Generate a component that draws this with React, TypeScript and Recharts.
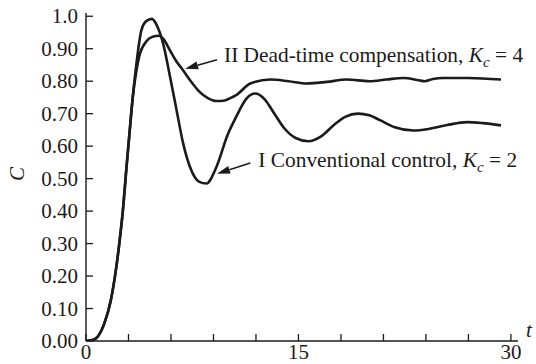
import React from 'react';
import { LineChart, Line, XAxis, YAxis, ReferenceLine } from 'recharts';

// Curve I: conventional control, Kc = 2
const conventionalT = [0, 0.4, 0.8, 1.3, 1.75, 2.1, 2.35, 2.6, 2.85, 3.05, 3.3, 3.55, 3.9, 4.25, 4.65, 5.0, 5.45, 5.95, 6.4, 6.85, 7.35, 8.0, 8.5, 9.2, 10.0, 10.6, 11.3, 11.95, 12.6, 13.3, 14.0, 14.8, 15.7, 16.6, 17.5, 18.3, 19.2, 20.0, 20.75, 21.8, 23.1, 24.2, 25.5, 26.9, 28.0, 29.3];
const conventionalC = [0, 0.002, 0.012, 0.055, 0.125, 0.215, 0.3, 0.4, 0.53, 0.63, 0.75, 0.85, 0.955, 0.985, 0.992, 0.972, 0.915, 0.81, 0.71, 0.61, 0.535, 0.49, 0.485, 0.535, 0.635, 0.69, 0.745, 0.762, 0.745, 0.7, 0.655, 0.625, 0.615, 0.63, 0.665, 0.69, 0.7, 0.695, 0.68, 0.658, 0.648, 0.653, 0.665, 0.674, 0.671, 0.664];

// Curve II: dead-time compensation, Kc = 4
const deadTimeT = [0, 0.4, 0.8, 1.3, 1.75, 2.1, 2.35, 2.6, 2.85, 3.05, 3.3, 3.55, 3.75, 4.25, 4.7, 5.15, 5.5, 5.9, 6.4, 6.85, 7.4, 8.0, 8.6, 9.2, 9.7, 10.15, 10.6, 11.6, 13.0, 14.3, 15.6, 17.0, 18.4, 20.0, 21.2, 22.4, 23.5, 23.9, 24.5, 25.2, 27.0, 29.3];
const deadTimeC = [0, 0.002, 0.012, 0.055, 0.125, 0.215, 0.3, 0.4, 0.53, 0.63, 0.75, 0.83, 0.875, 0.922, 0.937, 0.94, 0.928, 0.897, 0.86, 0.834, 0.8, 0.768, 0.748, 0.739, 0.74, 0.747, 0.757, 0.793, 0.805, 0.8, 0.793, 0.798, 0.805, 0.8, 0.805, 0.81, 0.803, 0.8, 0.807, 0.81, 0.81, 0.805];

const xTicks = [0, 3, 6, 9, 12, 15, 18, 21, 24, 27, 30];
const xTickLabels = ['0', '', '', '', '', '15', '', '', '', '', '30'];
const yTicks = [0, 0.1, 0.2, 0.3, 0.4, 0.5, 0.6, 0.7, 0.8, 0.9, 1.0];
const yTickLabels = ['0.00', '0.10', '0.20', '0.30', '0.40', '0.50', '0.60', '0.70', '0.80', '0.90', '1.0'];

// annotation arrows: [tail, head]
const arrowII = [{ x: 9.25, y: 0.866 }, { x: 7.0, y: 0.838 }];
const arrowI = [{ x: 11.6, y: 0.548 }, { x: 9.25, y: 0.515 }];

const conventionalData = conventionalT.map((t, i) => ({ t, c: conventionalC[i] }));
const deadTimeData = deadTimeT.map((t, i) => ({ t, c: deadTimeC[i] }));

const FONT = '"Liberation Serif", "Times New Roman", serif';
const INK = '#1c1a1a';

const findLabel = (ticks: number[], labels: string[], v: number) => {
  const i = ticks.findIndex((k) => Math.abs(k - v) < 1e-6);
  return i >= 0 ? labels[i] : '';
};

const XTick = (props: any) => {
  const { x, y, payload } = props;
  const label = findLabel(xTicks, xTickLabels, payload.value);
  return (
    <g>
      <line x1={x} y1={y} x2={x} y2={y - 7} stroke={INK} strokeWidth={1.3} />
      {label && (
        <text x={x} y={y + 18} textAnchor="middle" fontFamily={FONT} fontSize={21} fill={INK}>
          {label}
        </text>
      )}
    </g>
  );
};

const YTick = (props: any) => {
  const { x, y, payload } = props;
  const label = findLabel(yTicks, yTickLabels, payload.value);
  return (
    <g>
      <line x1={x} y1={y} x2={x + 7} y2={y} stroke={INK} strokeWidth={1.3} />
      <text x={x - 8} y={y + 7} textAnchor="end" fontFamily={FONT} fontSize={21} fill={INK}>
        {label}
      </text>
    </g>
  );
};

const makeArrow = (roman: string, gain: string, dx: number, dy: number) => (p: any) => {
  const { x1, y1, x2, y2 } = p;
  const ang = Math.atan2(y2 - y1, x2 - x1);
  const L = 13;
  const W = 4;
  const bx = x2 - L * Math.cos(ang);
  const by = y2 - L * Math.sin(ang);
  const px = -Math.sin(ang) * W;
  const py = Math.cos(ang) * W;
  return (
    <g>
      <line x1={x1} y1={y1} x2={bx} y2={by} stroke={INK} strokeWidth={1.4} />
      <polygon points={`${x2},${y2} ${bx + px},${by + py} ${bx - px},${by - py}`} fill={INK} />
      <text x={x1 + dx} y={y1 + dy} fontFamily={FONT} fontSize={21.4} fill={INK}>
        <tspan>{roman + ', '}</tspan>
        <tspan fontStyle="italic">K</tspan>
        <tspan fontStyle="italic" fontSize={15} dy={5}>c</tspan>
        <tspan dy={-5}>{' = ' + gain}</tspan>
      </text>
    </g>
  );
};

export default function App() {
  return (
    <div style={{ position: 'absolute', left: 0, top: 0, width: 536, height: 364, background: '#fff' }}>
      <LineChart width={536} height={364} margin={{ top: 13, right: 18, bottom: 0, left: 0 }}>
        <XAxis
          dataKey="t"
          type="number"
          domain={[0, 30.5]}
          ticks={xTicks}
          interval={0}
          height={23}
          tickSize={0}
          tickMargin={0}
          tick={<XTick />}
          axisLine={{ stroke: INK, strokeWidth: 1.4 }}
          allowDataOverflow
        />
        <YAxis
          dataKey="c"
          type="number"
          domain={[0, 1.01]}
          ticks={yTicks}
          interval={0}
          width={86}
          tickSize={0}
          tickMargin={0}
          tick={<YTick />}
          axisLine={{ stroke: INK, strokeWidth: 1.4 }}
          allowDataOverflow
        />
        <Line data={deadTimeData} dataKey="c" type="monotone" stroke={INK} strokeWidth={2.6} dot={false} isAnimationActive={false} />
        <Line data={conventionalData} dataKey="c" type="monotone" stroke={INK} strokeWidth={2.6} dot={false} isAnimationActive={false} />
        <ReferenceLine segment={arrowII} ifOverflow="visible" shape={makeArrow('II Dead-time compensation', '4', 7, 2)} />
        <ReferenceLine segment={arrowI} ifOverflow="visible" shape={makeArrow('I Conventional control', '2', 8, 4)} />
      </LineChart>
      <svg width={536} height={364} style={{ position: 'absolute', left: 0, top: 0, pointerEvents: 'none' }}>
        <text x={529} y={337} textAnchor="middle" fontFamily={FONT} fontStyle="italic" fontSize={21} fill={INK}>t</text>
        <text x={0} y={0} transform="translate(24,174) rotate(-90)" textAnchor="middle" fontFamily={FONT} fontStyle="italic" fontSize={21} fill={INK}>C</text>
      </svg>
    </div>
  );
}
